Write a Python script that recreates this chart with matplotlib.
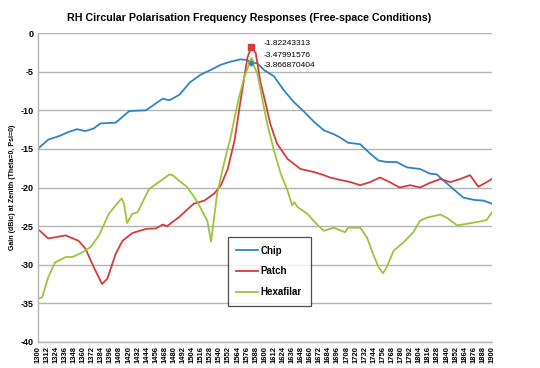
import numpy as np
import matplotlib
matplotlib.use("Agg")
import matplotlib.pyplot as plt

plt.rcParams['font.family'] = ['Liberation Sans', 'DejaVu Sans']

# Frequency (MHz) / gain (dBic)
chip_freq = [1300, 1314, 1328, 1341, 1352, 1363, 1374, 1383, 1403, 1421, 1443, 1465, 1474,
             1487, 1501, 1515, 1528, 1542, 1555, 1568, 1577, 1582, 1590, 1599, 1612, 1625,
             1638, 1652, 1665, 1678, 1691, 1699, 1710, 1726, 1739, 1750, 1761, 1774, 1788,
             1805, 1818, 1827, 1836, 1849, 1862, 1876, 1889, 1900]
chip_gain = [-15.0, -13.8, -13.35, -12.8, -12.45, -12.7, -12.35, -11.7, -11.6, -10.1, -10.0,
             -8.5, -8.7, -8.0, -6.4, -5.4, -4.8, -4.1, -3.7, -3.4, -3.5, -3.866870404, -3.9,
             -4.8, -5.6, -7.4, -8.9, -10.2, -11.5, -12.6, -13.1, -13.5, -14.2, -14.4, -15.6,
             -16.5, -16.7, -16.7, -17.4, -17.6, -18.2, -18.3, -19.1, -20.2, -21.3, -21.6,
             -21.7, -22.1]

patch_freq = [1300, 1314, 1337, 1354, 1363, 1374, 1385, 1392, 1403, 1412, 1425, 1443, 1456,
              1465, 1471, 1487, 1506, 1520, 1533, 1542, 1551, 1560, 1568, 1577, 1582, 1588,
              1594, 1601, 1607, 1616, 1630, 1647, 1665, 1678, 1686, 1699, 1713, 1726, 1739,
              1752, 1765, 1778, 1792, 1805, 1818, 1832, 1845, 1858, 1871, 1882, 1893, 1900]
patch_gain = [-25.35, -26.6, -26.2, -26.9, -27.9, -30.3, -32.5, -31.8, -28.6, -26.9, -25.9,
              -25.35, -25.3, -24.8, -25.0, -23.8, -22.1, -21.7, -20.8, -19.7, -17.6, -13.9,
              -8.7, -3.2, -1.82243313, -2.6, -6.3, -9.1, -11.7, -14.3, -16.3, -17.6, -18.0,
              -18.4, -18.7, -19.0, -19.3, -19.7, -19.3, -18.7, -19.3, -20.0, -19.7, -20.0,
              -19.4, -18.9, -19.3, -18.9, -18.4, -19.9, -19.3, -18.9]

hexa_freq = [1300, 1306, 1314, 1323, 1337, 1346, 1359, 1370, 1381, 1394, 1403, 1411, 1414,
             1418, 1425, 1432, 1447, 1460, 1474, 1478, 1489, 1497, 1505, 1511, 1524, 1529,
             1537, 1546, 1555, 1564, 1573, 1582, 1590, 1596, 1603, 1612, 1621, 1630, 1636,
             1639, 1643, 1656, 1670, 1678, 1691, 1706, 1710, 1726, 1735, 1743, 1750, 1756,
             1761, 1770, 1783, 1796, 1805, 1814, 1832, 1840, 1854, 1867, 1884, 1893, 1900]
hexa_gain = [-34.4, -34.2, -31.6, -29.7, -29.0, -29.0, -28.4, -27.7, -26.2, -23.4, -22.3,
             -21.4, -22.1, -24.6, -23.4, -23.2, -20.2, -19.3, -18.3, -18.4, -19.3, -19.9,
             -21.0, -21.9, -24.3, -27.0, -20.8, -16.9, -13.4, -9.1, -5.6, -3.47991576, -5.2,
             -8.2, -11.7, -15.2, -18.2, -20.4, -22.3, -21.9, -22.5, -23.4, -24.9, -25.6,
             -25.2, -25.8, -25.2, -25.2, -26.5, -28.6, -30.3, -31.1, -30.3, -28.2, -27.1,
             -25.8, -24.3, -23.9, -23.5, -23.9, -24.9, -24.7, -24.4, -24.2, -23.2]

peak_labels = ['-1.82243313', '-3.47991576', '-3.866870404']
x_ticks = list(range(1300, 1901, 12))
y_ticks = list(range(-40, 1, 5))

blue, red, green = '#2e84c8', '#d63c3a', '#9cc43e'

fig = plt.figure(figsize=(5.4, 3.68), dpi=100)
ax = fig.add_axes([0.0698, 0.0707, 0.8413, 0.8395])

ax.plot(chip_freq, chip_gain, color=blue, lw=1.3, label='Chip')
ax.plot(patch_freq, patch_gain, color=red, lw=1.3, label='Patch')
ax.plot(hexa_freq, hexa_gain, color=green, lw=1.3, label='Hexafilar')

# peak markers
ip = int(np.argmax(patch_gain))
ih = int(np.argmax(hexa_gain))
ic = chip_freq.index(1582)
ax.plot(patch_freq[ip], patch_gain[ip], 's', color=red, ms=4.5, mec=red)
ax.plot(hexa_freq[ih], hexa_gain[ih], '^', color=green, ms=4, mec=green)
ax.plot(chip_freq[ic], chip_gain[ic], 'D', color=blue, ms=2.5, mec=blue)

for lab, yv in zip(peak_labels, [-1.3, -2.85, -4.15]):
    ax.text(1598, yv, lab, fontsize=6, va='center', ha='left')

ax.set_xlim(1300, 1900)
ax.set_ylim(-40, 0)
ax.set_xticks(x_ticks)
ax.set_xticklabels([str(t) for t in x_ticks], rotation=90, fontsize=5.5, fontweight='bold')
ax.set_yticks(y_ticks)
ax.set_yticklabels([str(t) for t in y_ticks], fontsize=6.5, fontweight='bold')
ax.tick_params(axis='both', length=0, pad=3)
ax.yaxis.grid(True, color='#b4b4b4', lw=1.0)
ax.set_axisbelow(True)
for s in ['top', 'right']:
    ax.spines[s].set_visible(False)
for s in ['left', 'bottom']:
    ax.spines[s].set_color('#b4b4b4')
    ax.spines[s].set_linewidth(1.0)

ax.set_ylabel('Gain (dBic) at Zenith (Theta=0, Psi=0)', fontsize=5, fontweight='bold', labelpad=3)

leg = ax.legend(loc='lower left', bbox_to_anchor=(0.418, 0.117), borderaxespad=0,
                fancybox=False, edgecolor='#222222', fontsize=7, handlelength=2.2,
                labelspacing=1.1, borderpad=0.9, handletextpad=0.3)
leg.get_frame().set_linewidth(0.9)
for t in leg.get_texts():
    t.set_fontweight('bold')

fig.text(0.461, 0.951, 'RH Circular Polarisation Frequency Responses (Free-space Conditions)',
         ha='center', va='center', fontsize=7.7, fontweight='bold')

fig.savefig('out.png', dpi=100)
